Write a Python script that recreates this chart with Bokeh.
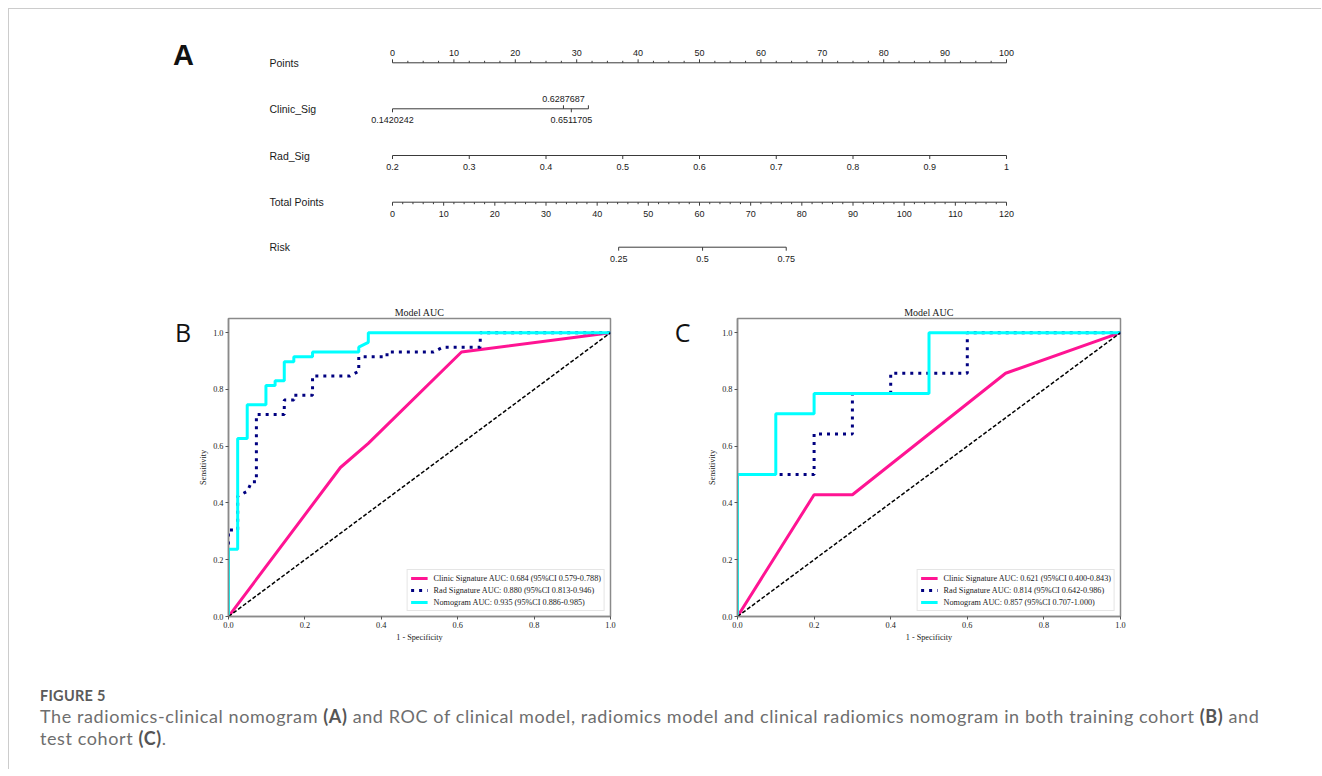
from bokeh.plotting import figure
from bokeh.models import Range1d, FixedTicker, NumeralTickFormatter, Div, ColumnDataSource
from bokeh.layouts import column, row
from bokeh.embed import file_html
from bokeh.resources import INLINE
from bokeh.core.properties import value

# ---------------- Data: nomogram (A) ----------------
row_names = ["Points", "Clinic_Sig", "Rad_Sig", "Total Points", "Risk"]
points_values = [0, 10, 20, 30, 40, 50, 60, 70, 80, 90, 100]
points_minor_step = 2.5
clinic_values = [0.1420242, 0.6287687, 0.6511705, 0.6998]
clinic_labels = ["0.1420242", "0.6287687", "0.6511705", ""]
clinic_label_above = [False, True, False, True]
clinic_points_per_unit = 57.2
rad_values = [0.2, 0.3, 0.4, 0.5, 0.6, 0.7, 0.8, 0.9, 1.0]
rad_labels = ["0.2", "0.3", "0.4", "0.5", "0.6", "0.7", "0.8", "0.9", "1"]
rad_points_per_unit = 125.0
total_values = [0, 10, 20, 30, 40, 50, 60, 70, 80, 90, 100, 110, 120]
total_minor_step = 2
risk_labels = ["0.25", "0.5", "0.75"]
risk_total_points = [44.2, 60.6, 76.95]

# ---------------- Data: ROC training cohort (B) ----------------
b_clinic_fpr = [0.0, 0.293, 0.366, 0.610, 1.0]
b_clinic_tpr = [0.0, 0.525, 0.610, 0.932, 1.0]
b_rad_fpr = [0.0, 0.0, 0.024, 0.024, 0.049, 0.061, 0.073, 0.073, 0.146, 0.146, 0.171, 0.171,
             0.220, 0.220, 0.317, 0.341, 0.341, 0.415, 0.415, 0.537, 0.561, 0.659, 0.659, 1.0]
b_rad_tpr = [0.0, 0.305, 0.305, 0.424, 0.441, 0.475, 0.475, 0.712, 0.712, 0.763, 0.763, 0.780,
             0.780, 0.847, 0.847, 0.864, 0.915, 0.915, 0.932, 0.932, 0.949, 0.949, 1.0, 1.0]
b_nomo_fpr = [0.0, 0.0, 0.024, 0.024, 0.049, 0.049, 0.098, 0.098, 0.122, 0.122, 0.146, 0.146,
              0.171, 0.171, 0.220, 0.220, 0.341, 0.341, 0.366, 0.366, 1.0]
b_nomo_tpr = [0.0, 0.237, 0.237, 0.627, 0.627, 0.746, 0.746, 0.814, 0.814, 0.831, 0.831, 0.898,
              0.898, 0.915, 0.915, 0.932, 0.932, 0.949, 0.966, 1.0, 1.0]
b_legend = ["Clinic Signature AUC: 0.684 (95%CI 0.579-0.788)",
            "Rad Signature AUC: 0.880 (95%CI 0.813-0.946)",
            "Nomogram AUC: 0.935 (95%CI 0.886-0.985)"]

# ---------------- Data: ROC test cohort (C) ----------------
c_clinic_fpr = [0.0, 0.2, 0.3, 0.7, 1.0]
c_clinic_tpr = [0.0, 0.429, 0.429, 0.857, 1.0]
c_rad_fpr = [0.0, 0.0, 0.2, 0.2, 0.3, 0.3, 0.4, 0.4, 0.6, 0.6, 1.0]
c_rad_tpr = [0.0, 0.5, 0.5, 0.643, 0.643, 0.786, 0.786, 0.857, 0.857, 1.0, 1.0]
c_nomo_fpr = [0.0, 0.0, 0.1, 0.1, 0.2, 0.2, 0.5, 0.5, 1.0]
c_nomo_tpr = [0.0, 0.5, 0.5, 0.714, 0.714, 0.786, 0.786, 1.0, 1.0]
c_legend = ["Clinic Signature AUC: 0.621 (95%CI 0.400-0.843)",
            "Rad Signature AUC: 0.814 (95%CI 0.642-0.986)",
            "Nomogram AUC: 0.857 (95%CI 0.707-1.000)"]

diag = [0.0, 1.0]

# ---------------- Layout constants (page pixels) ----------------
ORG = 9                      # content origin (after 8px margin + 1px border)
PAGE_W = 1306
NOMO_H = 282
ROC_H = 365
ROC_BT = 27                  # ROC top border
ROC_FH = 298                 # ROC frame height
ROC_BB = ROC_H - ROC_BT - ROC_FH
CAP_H = 760 - NOMO_H - ROC_H
ROC_TOP = ORG + NOMO_H
X0_PX, X100_PX = 392.0, 1006.0
PX_PER_PT = (X100_PX - X0_PX) / 100.0
ROW_Y = [62.3, 108.3, 155.0, 201.7, 246.7]
LINE_COL = "#3a3a3a"
SANS = "Liberation Sans"
SERIF = "Liberation Serif"
SANS_V = value(SANS)


def px2pts(px):
    return (px - X0_PX) / PX_PER_PT


# ---------------- Nomogram figure ----------------
nomo = figure(width=PAGE_W, height=NOMO_H,
              x_range=Range1d(px2pts(ORG), px2pts(ORG + PAGE_W)),
              y_range=Range1d(ORG + NOMO_H, ORG),
              x_axis_type=None, y_axis_type=None, toolbar_location=None,
              output_backend="svg", min_border=0, outline_line_color=None)
nomo.grid.visible = False


def scale_row(p, y, line_x0, line_x1, major_x, labels, up_flags, minor_x=()):
    p.segment(x0=[line_x0], y0=[y], x1=[line_x1], y1=[y], line_color=LINE_COL, line_width=1)
    maj_y1 = [y - 3.5 if u else y + 3.5 for u in up_flags]
    p.segment(x0=major_x, y0=[y] * len(major_x), x1=major_x, y1=maj_y1,
              line_color=LINE_COL, line_width=1)
    if len(minor_x):
        up = up_flags[0]
        p.segment(x0=list(minor_x), y0=[y] * len(minor_x), x1=list(minor_x),
                  y1=[y - 2 if up else y + 2] * len(minor_x), line_color=LINE_COL, line_width=1)
    ly = [y - 10 if u else y + 11.5 for u in up_flags]
    src = ColumnDataSource(dict(x=major_x, y=ly, t=labels))
    p.text(x="x", y="y", text="t", source=src, text_font=SANS_V, text_font_size="9px",
           text_align="center", text_baseline="middle", text_color="#1a1a1a")


name_src = ColumnDataSource(dict(x=[px2pts(269)] * 5, y=ROW_Y, t=row_names))
nomo.text(x="x", y="y", text="t", source=name_src, text_font=SANS_V, text_font_size="10.5px",
          text_align="left", text_baseline="middle", text_color="#1a1a1a")

pmin = [i * points_minor_step for i in range(int(100 / points_minor_step) + 1)
        if (i * points_minor_step) % 10 != 0]
scale_row(nomo, ROW_Y[0], 0, 100, points_values, [str(v) for v in points_values],
          [True] * len(points_values), pmin)

clin_pts = [(v - clinic_values[0]) * clinic_points_per_unit for v in clinic_values]
scale_row(nomo, ROW_Y[1], clin_pts[0], clin_pts[-1], clin_pts, clinic_labels, clinic_label_above)

rad_pts = [(v - rad_values[0]) * rad_points_per_unit for v in rad_values]
scale_row(nomo, ROW_Y[2], rad_pts[0], rad_pts[-1], rad_pts, rad_labels, [False] * len(rad_pts))

tmax = total_values[-1]
tot_pts = [v * 100.0 / tmax for v in total_values]
tmin = [i * total_minor_step * 100.0 / tmax for i in range(int(tmax / total_minor_step) + 1)
        if (i * total_minor_step) % 10 != 0]
scale_row(nomo, ROW_Y[3], 0, 100, tot_pts, [str(v) for v in total_values],
          [False] * len(tot_pts), tmin)

risk_pts = [v * 100.0 / tmax for v in risk_total_points]
scale_row(nomo, ROW_Y[4], risk_pts[0], risk_pts[-1], risk_pts, risk_labels, [False] * 3)

nomo.text(x=[px2pts(183)], y=[54], text=["A"], text_font=SANS_V, text_font_size="29px",
          text_font_style="bold", text_align="center", text_baseline="middle",
          text_color="#111111")


# ---------------- panel letter strips (frames aligned with ROC frames by the row) ----------------
def letter_fig(x_left, width, letter, cx, cy):
    f = figure(width=width, height=ROC_H, x_range=Range1d(x_left, x_left + width),
               y_range=Range1d(ROC_TOP + ROC_BT + ROC_FH, ROC_TOP + ROC_BT),
               x_axis_type=None, y_axis_type=None,
               toolbar_location=None, output_backend="svg", min_border_left=0,
               min_border_right=0, min_border_top=ROC_BT, min_border_bottom=ROC_BB,
               outline_line_color=None)
    f.grid.visible = False
    f.text(x=[cx], y=[cy], text=[letter], text_font=value("Open Sans"), text_font_size="25px",
           text_align="center", text_baseline="middle", text_color="#111111")
    return f


# ---------------- ROC figures ----------------
def roc_fig(clinic, rad, nomo_c, legend, bl, br, fw):
    p = figure(frame_width=fw, frame_height=ROC_FH, x_range=Range1d(0, 1),
               y_range=Range1d(0, 1.05), toolbar_location=None, output_backend="svg",
               min_border_left=bl, min_border_right=br, min_border_top=ROC_BT,
               min_border_bottom=ROC_BB,
               outline_line_color="#8a8a8a", outline_line_width=1.5)
    p.grid.visible = False
    p.title.text = "Model AUC"
    p.title.text_font = SERIF
    p.title.text_font_size = "10px"
    p.title.text_font_style = "normal"
    p.title.align = "center"
    p.title.standoff = 2
    p.title.text_color = "#1a1a1a"
    p.line(clinic[0], clinic[1], line_color="#ff1493", line_width=3, legend_label=legend[0])
    p.line(rad[0], rad[1], line_color="#000080", line_width=3, line_dash="3 5",
           legend_label=legend[1])
    p.line(nomo_c[0], nomo_c[1], line_color="#00ffff", line_width=3, legend_label=legend[2])
    p.line(diag, diag, line_color="black", line_width=1.5, line_dash="4 2")
    for ax in (p.xaxis, p.yaxis):
        ax.ticker = FixedTicker(ticks=[0, 0.2, 0.4, 0.6, 0.8, 1.0])
        ax.formatter = NumeralTickFormatter(format="0.0")
        ax.major_label_text_font = SERIF
        ax.major_label_text_font_size = "8.3px"
        ax.major_label_text_color = "#222222"
        ax.axis_label_text_font = SERIF
        ax.axis_label_text_font_size = "8.2px"
        ax.axis_label_text_font_style = "normal"
        ax.axis_label_text_color = "#222222"
        ax.minor_tick_line_color = None
        ax.major_tick_in = 0
        ax.major_tick_out = 3
        ax.major_tick_line_color = "#555555"
        ax.axis_line_color = "#8a8a8a"
        ax.axis_line_width = 1.5
        ax.major_label_standoff = 2
        ax.axis_label_standoff = 2
    p.xaxis.axis_label = "1 - Specificity"
    p.yaxis.axis_label = "Sensitivity"
    lg = p.legend[0]
    lg.location = "bottom_right"
    lg.label_text_font = SERIF
    lg.label_text_font_size = "8.2px"
    lg.label_text_color = "#1a1a1a"
    lg.glyph_width = 17
    lg.glyph_height = 10
    lg.label_height = 10
    lg.spacing = 2
    lg.padding = 3
    lg.margin = 5
    lg.label_standoff = 6
    lg.border_line_color = "#cccccc"
    lg.background_fill_alpha = 0.8
    return p


let_b = letter_fig(ORG, 185, "B", 182.5, 331)
roc_b = roc_fig((b_clinic_fpr, b_clinic_tpr), (b_rad_fpr, b_rad_tpr),
                (b_nomo_fpr, b_nomo_tpr), b_legend, 34, 50, 382)
let_c = letter_fig(660, 34, "C", 682, 331)
roc_c = roc_fig((c_clinic_fpr, c_clinic_tpr), (c_rad_fpr, c_rad_tpr),
                (c_nomo_fpr, c_nomo_tpr), c_legend, 43, 195, 383)

caption_html = (
    '<div style="font-family:Lato,sans-serif;color:#6e6e6e;padding:30.5px 0 0 31px;'
    'white-space:nowrap;">'
    '<div style="font-size:14.5px;line-height:18px;font-weight:700;color:#5a5a5a;'
    'letter-spacing:0.3px;">FIGURE 5</div>'
    '<div style="font-size:18px;line-height:22px;letter-spacing:0.6px;">The radiomics-clinical '
    'nomogram <b style="color:#555555;">(A)</b> and ROC of clinical model, radiomics model and '
    'clinical radiomics nomogram in both training cohort <b style="color:#555555;">(B)</b> and'
    '<br>test cohort <b style="color:#555555;">(C)</b>.</div></div>'
)
caption = Div(text=caption_html, width=PAGE_W + 6, height=CAP_H, margin=(0, 0, 0, 0))

layout = column(nomo, row(let_b, roc_b, let_c, roc_c), caption,
                styles={"margin-left": "8px", "margin-top": "8px",
                        "border-top": "1px solid #cccccc", "border-left": "1px solid #cccccc"})

open("out.html", "w").write(file_html(layout, INLINE))
